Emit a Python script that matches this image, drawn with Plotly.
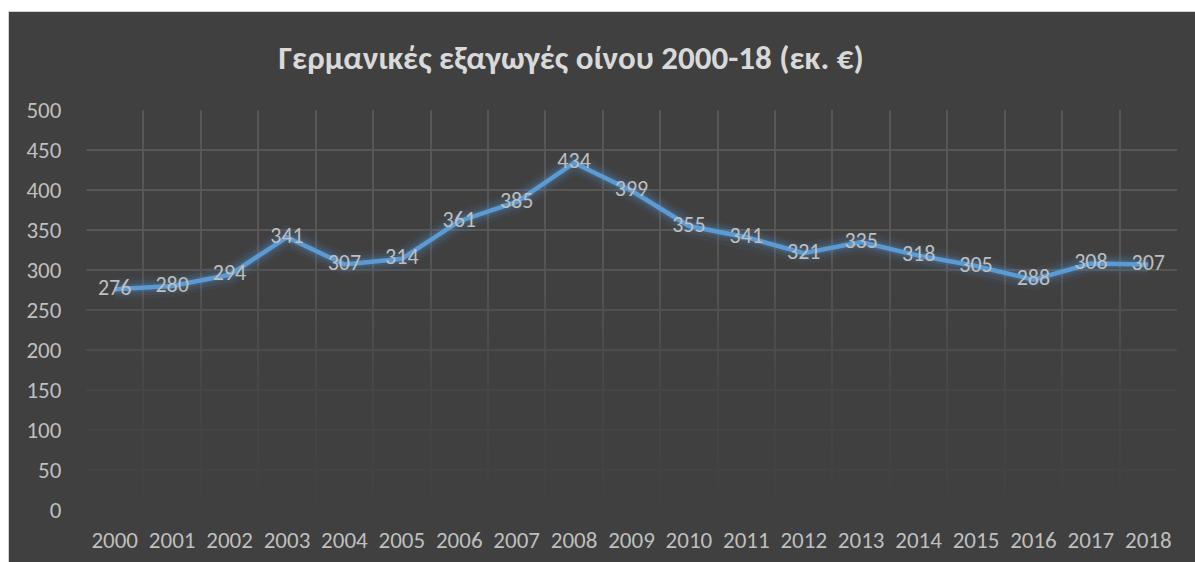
import plotly.graph_objects as go

# ---- data ----
years = ["2000", "2001", "2002", "2003", "2004", "2005", "2006", "2007", "2008", "2009",
         "2010", "2011", "2012", "2013", "2014", "2015", "2016", "2017", "2018"]
exports = [276, 280, 294, 341, 307, 314, 361, 385, 434, 399,
           355, 341, 321, 335, 318, 305, 288, 308, 307]
y_ticks = [0, 50, 100, 150, 200, 250, 300, 350, 400, 450, 500]
title_text = "Γερμανικές εξαγωγές οίνου 2000-18 (εκ. €)"

# ---- style ----
BG = "#404040"
GRID = "#575757"
TXT = "#bfbfbf"
LINE = "#5b9bd5"
FONT = "Calibri, Carlito, 'Open Sans', sans-serif"

x_pos = list(range(len(years)))
bounds = [i - 0.5 for i in range(len(years) + 1)]
y_min, y_max = y_ticks[0], y_ticks[-1]

fig = go.Figure()

# fade overlay for gridlines (lower part of plot area fades into background)
fig.add_trace(go.Scatter(
    x=[bounds[0], bounds[-1], bounds[-1], bounds[0], bounds[0]],
    y=[y_min, y_min, y_max, y_max, y_min],
    mode="lines", line=dict(width=0), fill="toself",
    fillgradient=dict(type="vertical", start=y_min, stop=y_max,
                      colorscale=[[0, "rgba(64,64,64,0.97)"],
                                  [0.3, "rgba(64,64,64,0.75)"],
                                  [0.55, "rgba(64,64,64,0.2)"],
                                  [0.7, "rgba(64,64,64,0)"],
                                  [1, "rgba(64,64,64,0)"]]),
    hoverinfo="skip", showlegend=False))

# glow layers
for w, a in [(22, 0.06), (15, 0.10), (9, 0.17)]:
    fig.add_trace(go.Scatter(x=x_pos, y=exports, mode="lines",
                             line=dict(color=f"rgba(91,155,213,{a})", width=w),
                             hoverinfo="skip", showlegend=False))

fig.add_trace(go.Scatter(
    x=x_pos, y=exports, mode="lines+text",
    line=dict(color=LINE, width=4.5),
    text=[str(v) for v in exports], textposition="middle center",
    textfont=dict(family=FONT, size=22, color=TXT),
    showlegend=False))

fig.update_layout(
    width=1186, height=550,
    margin=dict(l=77, r=18, t=98, b=52, autoexpand=False),
    paper_bgcolor=BG, plot_bgcolor=BG,
    font=dict(family=FONT, color=TXT, size=23),
    title=dict(text=title_text, x=0.474, xref="container", xanchor="center",
               y=1 - 45 / 550, yref="container", yanchor="middle",
               font=dict(family=FONT, size=33, color="#d9d9d9", weight="bold")),
)
fig.update_xaxes(
    range=[bounds[0], bounds[-1]],
    tickvals=x_pos, ticktext=years,
    showgrid=False, zeroline=False, showline=False,
    ticks="outside", ticklen=9, tickcolor=BG,
    tickfont=dict(size=23, color=TXT),
    minor=dict(tickvals=bounds, showgrid=True, gridcolor=GRID, gridwidth=1.5, ticks=""),
)
fig.update_yaxes(
    range=[y_min, y_max], tickvals=y_ticks,
    showgrid=True, gridcolor=GRID, gridwidth=1.5, zeroline=False, showline=False,
    ticks="outside", ticklen=19, tickcolor=BG,
    tickfont=dict(size=23, color=TXT),
)

fig.write_html("out.html", post_script=(
    "document.body.style.margin='11px 0 0 8px';"
    "var d=document.querySelector('.plotly-graph-div');"
    "d.style.borderTop='1px solid #d0d0d0';d.style.borderLeft='1px solid #d0d0d0';"
))
